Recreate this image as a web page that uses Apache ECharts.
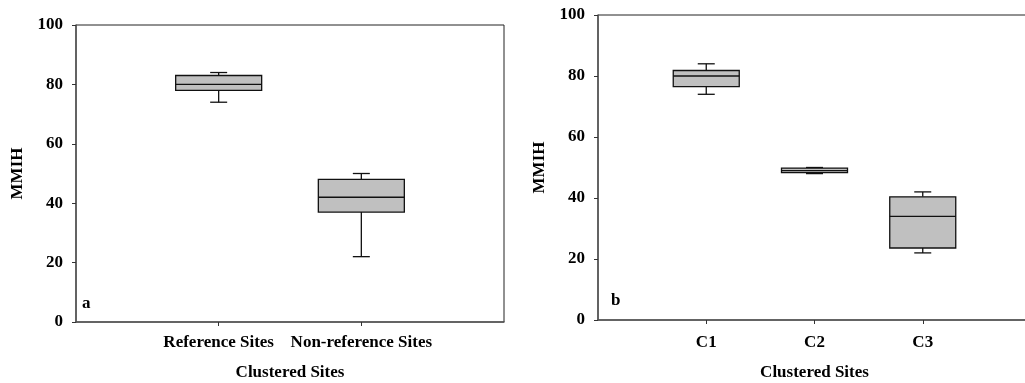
<!DOCTYPE html>
<html>
<head>
<meta charset="utf-8">
<script src="https://cdn.jsdelivr.net/npm/echarts@6/dist/echarts.min.js"></script>
<style>
html,body{margin:0;padding:0;background:#fff;}
#chart{width:1025px;height:383px;}
</style>
</head>
<body>
<div id="chart"></div>
<script>
// Panel a
const catsA = ['', 'Reference Sites', 'Non-reference Sites', ''];
// [min, Q1, median, Q3, max]
const referenceSites = [74, 78, 80, 83, 84];
const nonReferenceSites = [22, 37, 42, 48, 50];
// Panel b
const catsB = ['', 'C1', 'C2', 'C3', ''];
const c1 = [74, 76.5, 80, 81.8, 84];
const c2 = [48, 48.3, 49, 49.8, 50];
const c3 = [22, 23.6, 34, 40.4, 42];
const yTicks = [0, 20, 40, 60, 80, 100];
const xTitle = 'Clustered Sites';
const yTitle = 'MMIH';
const panelLabels = ['a', 'b'];

const FONT = '"Liberation Serif", "Times New Roman", serif';
const FS = 17;
const BOX_FILL = '#c0c0c0';

function makeRender(boxW) {
  return function (params, api) {
    const x = api.value(0);
    const vmin = api.value(1), q1 = api.value(2), med = api.value(3), q3 = api.value(4), vmax = api.value(5);
    const pMin = api.coord([x, vmin]);
    const pQ1 = api.coord([x, q1]);
    const pMed = api.coord([x, med]);
    const pQ3 = api.coord([x, q3]);
    const pMax = api.coord([x, vmax]);
    const cx = pMed[0];
    const half = boxW / 2, cap = 8.5;
    const ls = {stroke: '#111', lineWidth: 1.3, fill: null};
    return {
      type: 'group',
      children: [
        {type: 'line', shape: {x1: cx, y1: pQ3[1], x2: cx, y2: pMax[1]}, style: ls},
        {type: 'line', shape: {x1: cx, y1: pQ1[1], x2: cx, y2: pMin[1]}, style: ls},
        {type: 'line', shape: {x1: cx - cap, y1: pMax[1], x2: cx + cap, y2: pMax[1]}, style: ls},
        {type: 'line', shape: {x1: cx - cap, y1: pMin[1], x2: cx + cap, y2: pMin[1]}, style: ls},
        {type: 'rect', shape: {x: cx - half, y: pQ3[1], width: boxW, height: pQ1[1] - pQ3[1]},
         style: {fill: BOX_FILL, stroke: '#111', lineWidth: 1.3}},
        {type: 'line', shape: {x1: cx - half, y1: pMed[1], x2: cx + half, y2: pMed[1]}, style: ls}
      ]
    };
  };
}

function xAxisCfg(idx, cats, gap, margin) {
  return {
    type: 'category', gridIndex: idx, data: cats, boundaryGap: false,
    name: xTitle, nameLocation: 'middle', nameGap: gap,
    nameTextStyle: {fontFamily: FONT, fontWeight: 'bold', fontSize: FS, color: '#000'},
    axisLine: {lineStyle: {color: '#555', width: 1.5}},
    axisTick: {show: true, length: 4, lineStyle: {color: '#333'}, interval: function (i, v) { return v !== ''; }},
    axisLabel: {interval: 0, margin: margin, fontFamily: FONT, fontWeight: 'bold', fontSize: FS, color: '#000'},
    splitLine: {show: false}
  };
}
function yAxisCfg(idx) {
  return {
    type: 'value', gridIndex: idx, min: yTicks[0], max: yTicks[yTicks.length - 1], interval: 20,
    name: yTitle, nameLocation: 'middle', nameGap: 50, nameRotate: 90,
    nameTextStyle: {fontFamily: FONT, fontWeight: 'bold', fontSize: FS, color: '#000'},
    axisLine: {show: true, lineStyle: {color: '#555', width: 1.5}},
    axisTick: {show: true, length: 4, lineStyle: {color: '#333'}},
    axisLabel: {margin: 13, fontFamily: FONT, fontWeight: 'bold', fontSize: FS, color: '#000'},
    splitLine: {show: false}
  };
}

const chart = echarts.init(document.getElementById('chart'), null, {renderer: 'canvas'});
chart.setOption({
  animation: false,
  backgroundColor: '#fff',
  grid: [
    {left: 76, top: 25, width: 428, height: 297, show: true, borderColor: '#222', borderWidth: 1,
     backgroundColor: 'transparent', containLabel: false, outerBoundsMode: 'none'},
    {left: 598, top: 15, width: 433, height: 305, show: true, borderColor: '#222', borderWidth: 1,
     backgroundColor: 'transparent', containLabel: false, outerBoundsMode: 'none'}
  ],
  xAxis: [xAxisCfg(0, catsA, 42, 12), xAxisCfg(1, catsB, 44, 14)],
  yAxis: [yAxisCfg(0), yAxisCfg(1)],
  graphic: [
    {type: 'text', left: 82, top: 295, style: {text: panelLabels[0], font: 'bold 17px ' + FONT, fill: '#000'}},
    {type: 'text', left: 611, top: 292, style: {text: panelLabels[1], font: 'bold 17px ' + FONT, fill: '#000'}}
  ],
  series: [
    {type: 'custom', xAxisIndex: 0, yAxisIndex: 0, renderItem: makeRender(86), clip: false,
     encode: {x: 0, y: [1, 2, 3, 4, 5]},
     data: [[1].concat(referenceSites), [2].concat(nonReferenceSites)]},
    {type: 'custom', xAxisIndex: 1, yAxisIndex: 1, renderItem: makeRender(66), clip: false,
     encode: {x: 0, y: [1, 2, 3, 4, 5]},
     data: [[1].concat(c1), [2].concat(c2), [3].concat(c3)]}
  ]
});
</script>
</body>
</html>
